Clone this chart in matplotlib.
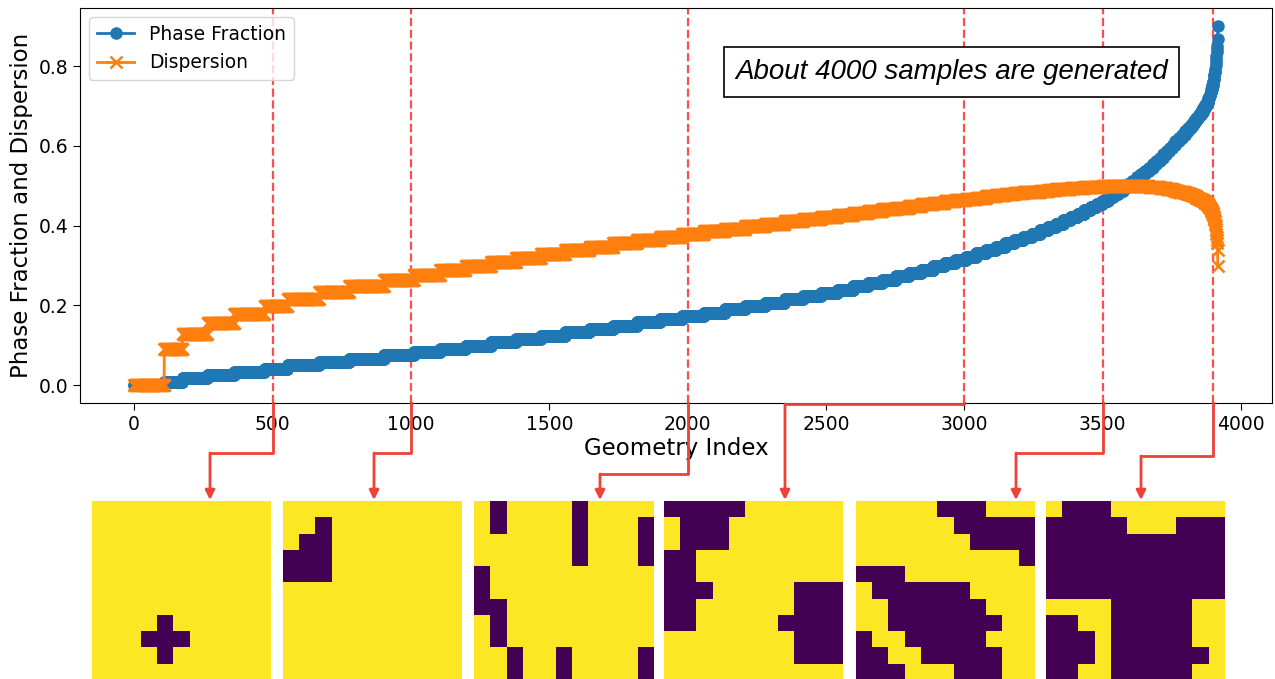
import numpy as np
import matplotlib
matplotlib.use("Agg")
import matplotlib.pyplot as plt
from matplotlib.patches import FancyArrowPatch
from matplotlib.lines import Line2D

# ---------------- data ----------------
grid_cells = 121  # 11 x 11 binary geometries

# number of generated geometries having k dark cells (k = 0, 1, 2, ...)
level_counts = [
    109, 66, 90, 97, 109, 84, 114, 109, 125, 108,
    95, 92, 92, 90, 90, 88, 88, 86, 85, 84, 80,
    78, 76, 74, 72, 70, 67, 64,
    60, 57, 54, 51, 49, 47, 45, 43, 41, 39,
    38, 37, 36, 35, 34, 33, 32, 31, 30, 29, 28, 27, 26, 25, 24, 23,
    22, 21, 20, 19, 18, 18, 17, 16, 16, 15, 15, 14, 14, 13, 13, 12, 12, 11, 11, 10,
    12, 12, 11, 11, 10, 10, 9, 9, 8, 8, 7, 7,
    5, 4, 4, 3, 3, 3, 2, 2, 2, 2, 1, 1, 1, 1, 1, 1, 1, 1, 0, 1, 0, 0, 0, 1,
]

marked_indices = [500, 1000, 2000, 3000, 3500, 3900]

# example geometries ('#' = phase 0 / dark, '.' = phase 1 / yellow)
geometries = [
    ["...........", "...........", "...........", "...........", "...........", "...........",
     "...........", "....#......", "...###.....", "....#......", "..........."],
    ["...........", "..#........", ".##........", "###........", "###........", "...........",
     "...........", "...........", "...........", "...........", "..........."],
    [".#....#....", ".#....#...#", "......#...#", "......#...#", "#..........", "#..........",
     "##.........", ".#.........", ".#.........", "..#..#....#", "..#..#....#"],
    ["#####......", ".###.......", ".###.......", "##.........", "##.........", "###.....###",
     "##......###", "##.....####", "........###", "........###", "..........."],
    [".....###...", "......#####", ".......####", "..........#", "###........", ".######....",
     "..######...", "..#######..", "#..#####...", "##..#####..", "###...###.."],
    [".###.......", "#####...###", "###########", "###########", "###########", "###########",
     "....#####..", "##..#####..", "###.#####..", "###.######.", "##..#####.."],
]

annotation_text = "About 4000 samples are generated"

# derived series: sorted phase fraction and the spread (std) of each binary geometry
dark_cells = np.repeat(np.arange(len(level_counts)), level_counts)
phase_fraction = dark_cells / grid_cells
dispersion = np.sqrt(phase_fraction * (1 - phase_fraction))
geometry_index = np.arange(len(phase_fraction))

# ---------------- layout ----------------
W, H = 1275, 679
fig = plt.figure(figsize=(W / 100, H / 100), dpi=100)

def fx(px):
    return px / W

def fy(py):
    return 1 - py / H

ax = fig.add_axes([fx(80), fy(403), fx(1272) - fx(80), fy(8) - fy(403)])
ax.plot(geometry_index, phase_fraction, "-o", color="#1f77b4", ms=8, lw=2, label="Phase Fraction")
ax.plot(geometry_index, dispersion, "-x", color="#ff7f0e", ms=8, lw=2, mew=1.8, label="Dispersion")
for xv in marked_indices:
    ax.axvline(xv, color="red", ls="--", lw=1.6, alpha=0.7, zorder=1)

ax.set_xlabel("Geometry Index", fontsize=16.5, labelpad=2)
ax.set_ylabel("Phase Fraction and Dispersion", fontsize=16.5)
ax.tick_params(labelsize=13.5, length=5)
ax.set_xticks(np.arange(0, 4001, 500))
ax.set_yticks(np.arange(0, 0.81, 0.2))
ax.legend(loc="upper left", fontsize=13.5)

fig.text(fx(951.5), fy(72), annotation_text, ha="center", va="center",
         fontsize=20, family="Liberation Sans", style="italic",
         bbox=dict(boxstyle="square,pad=0.42", fc="white", ec="black", lw=1.2), zorder=5)

# geometry images
img_lefts = [92, 283, 474, 664, 856, 1046]
img_size = 179
img_top = 501
for left, geo in zip(img_lefts, geometries):
    iax = fig.add_axes([fx(left), fy(img_top + img_size), fx(img_size), img_size / H])
    arr = np.array([[0 if c == "#" else 1 for c in row] for row in geo])
    iax.imshow(arr, cmap="viridis", vmin=0, vmax=1, interpolation="nearest", aspect="auto")
    iax.axis("off")

# connectors
elbow_y = [453, 453, 474, 404, 453, 456]
target_x = [210, 374, 600, 785, 1016, 1141]
arrow_end_y = 500
conn_color = "#ef4136"
fig.canvas.draw()
inv = fig.transFigure.inverted()
axis_bottom = fy(403)
for xv, ey, tx in zip(marked_indices, elbow_y, target_x):
    sx = inv.transform(ax.transData.transform((xv, 0)))[0]
    line = Line2D([sx, sx, fx(tx)], [axis_bottom, fy(ey), fy(ey)], transform=fig.transFigure,
                  color=conn_color, lw=2, solid_capstyle="projecting")
    fig.add_artist(line)
    arr = FancyArrowPatch((fx(tx), fy(ey)), (fx(tx), fy(arrow_end_y)), transform=fig.transFigure,
                          arrowstyle="-|>", mutation_scale=14, color=conn_color, lw=2,
                          shrinkA=0, shrinkB=0)
    fig.add_artist(arr)

fig.savefig("out.png", dpi=100)
